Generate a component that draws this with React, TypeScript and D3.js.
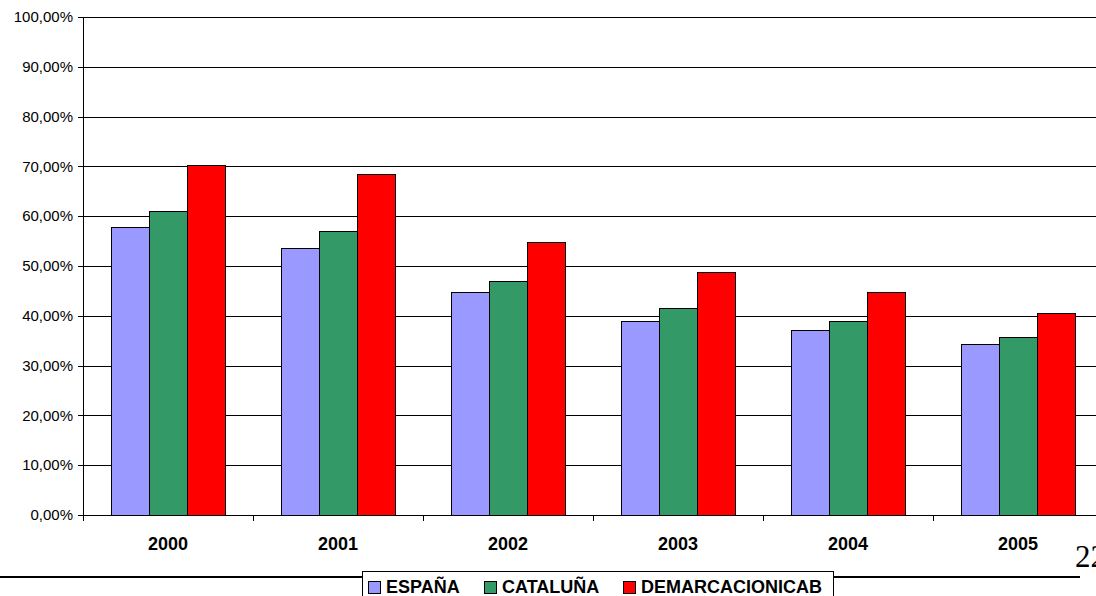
import React from "react";
import * as d3 from "d3";

const years = ["2000", "2001", "2002", "2003", "2004", "2005"];
const seriesNames = ["ESPAÑA", "CATALUÑA", "DEMARCACIONICAB"];
const espana = [57.9, 53.7, 44.7, 38.9, 37.1, 34.3];
const cataluna = [61.1, 57.1, 47.0, 41.5, 38.9, 35.7];
const demarcacion = [70.3, 68.5, 54.8, 48.7, 44.8, 40.6];
const yTicks = [0, 10, 20, 30, 40, 50, 60, 70, 80, 90, 100];
const colors = ["#9999FF", "#339966", "#FF0000"];
const pageNumber = "22";

const W = 1096;
const H = 596;
const left = 83;
const top = 17;
const bottom = 515;
const catW = 170;

export default function App() {
  const series = [espana, cataluna, demarcacion];
  const x = d3
    .scaleBand<string>()
    .domain(years)
    .range([left, left + catW * years.length])
    .paddingInner(0)
    .paddingOuter(0);
  const inner = d3
    .scaleBand<number>()
    .domain([0, 1, 2])
    .range([28, catW - 28]);
  const y = d3.scaleLinear().domain([0, 100]).range([bottom, top]);
  const fmt = (v: number) => v.toFixed(2).replace(".", ",") + "%";

  const legendItems = [
    { x: 368, label: seriesNames[0] },
    { x: 484, label: seriesNames[1] },
    { x: 623, label: seriesNames[2] },
  ];

  return (
    <svg
      width={W}
      height={H}
      style={{ position: "absolute", left: 0, top: 0, background: "#fff" }}
      fontFamily="Arial, 'Liberation Sans', sans-serif"
    >
      <rect x={0} y={0} width={W} height={H} fill="#fff" />
      {yTicks.map((t) => (
        <g key={t}>
          <line
            x1={left}
            x2={W}
            y1={Math.round(y(t)) + 0.5}
            y2={Math.round(y(t)) + 0.5}
            stroke="#000"
            strokeWidth={1}
          />
          <line
            x1={78}
            x2={left}
            y1={Math.round(y(t)) + 0.5}
            y2={Math.round(y(t)) + 0.5}
            stroke="#000"
          />
          <text
            x={73}
            y={y(t)}
            dy="0.35em"
            textAnchor="end"
            fontSize={15}
            fill="#000"
          >
            {fmt(t)}
          </text>
        </g>
      ))}
      {series.map((vals, si) =>
        vals.map((v, i) => {
          const bx = (x(years[i]) as number) + (inner(si) as number);
          return (
            <rect
              key={`${si}-${i}`}
              x={Math.round(bx) + 0.5}
              y={Math.round(y(v)) + 0.5}
              width={Math.round(inner.bandwidth())}
              height={Math.round(y(0)) - Math.round(y(v))}
              fill={colors[si]}
              stroke="#000"
              strokeWidth={1}
            />
          );
        })
      )}
      <line x1={left + 0.5} x2={left + 0.5} y1={top} y2={bottom + 1} stroke="#000" />
      <line x1={left} x2={W} y1={bottom + 0.5} y2={bottom + 0.5} stroke="#000" />
      {years.map((yr) => (
        <line
          key={"t" + yr}
          x1={(x(yr) as number) + 0.5}
          x2={(x(yr) as number) + 0.5}
          y1={bottom}
          y2={bottom + 6}
          stroke="#000"
        />
      ))}
      {years.map((yr) => (
        <text
          key={"l" + yr}
          x={(x(yr) as number) + catW / 2}
          y={550}
          textAnchor="middle"
          fontSize={18}
          fontWeight="bold"
          fill="#000"
        >
          {yr}
        </text>
      ))}
      <line x1={0} x2={1080} y1={577} y2={577} stroke="#000" strokeWidth={2} />
      <rect x={362.5} y={571.5} width={471} height={30} fill="#fff" stroke="#000" />
      {legendItems.map((it, i) => (
        <g key={it.label}>
          <rect
            x={it.x + 0.5}
            y={581.5}
            width={12}
            height={12}
            fill={colors[i]}
            stroke="#000"
          />
          <text
            x={it.x + 18}
            y={593}
            fontSize={18}
            fontWeight="bold"
            fill="#000"
          >
            {it.label}
          </text>
        </g>
      ))}
      <text
        x={1075}
        y={567}
        fontSize={31}
        fontFamily="'Liberation Serif', 'Times New Roman', serif"
        fill="#000"
      >
        {pageNumber}
      </text>
    </svg>
  );
}
